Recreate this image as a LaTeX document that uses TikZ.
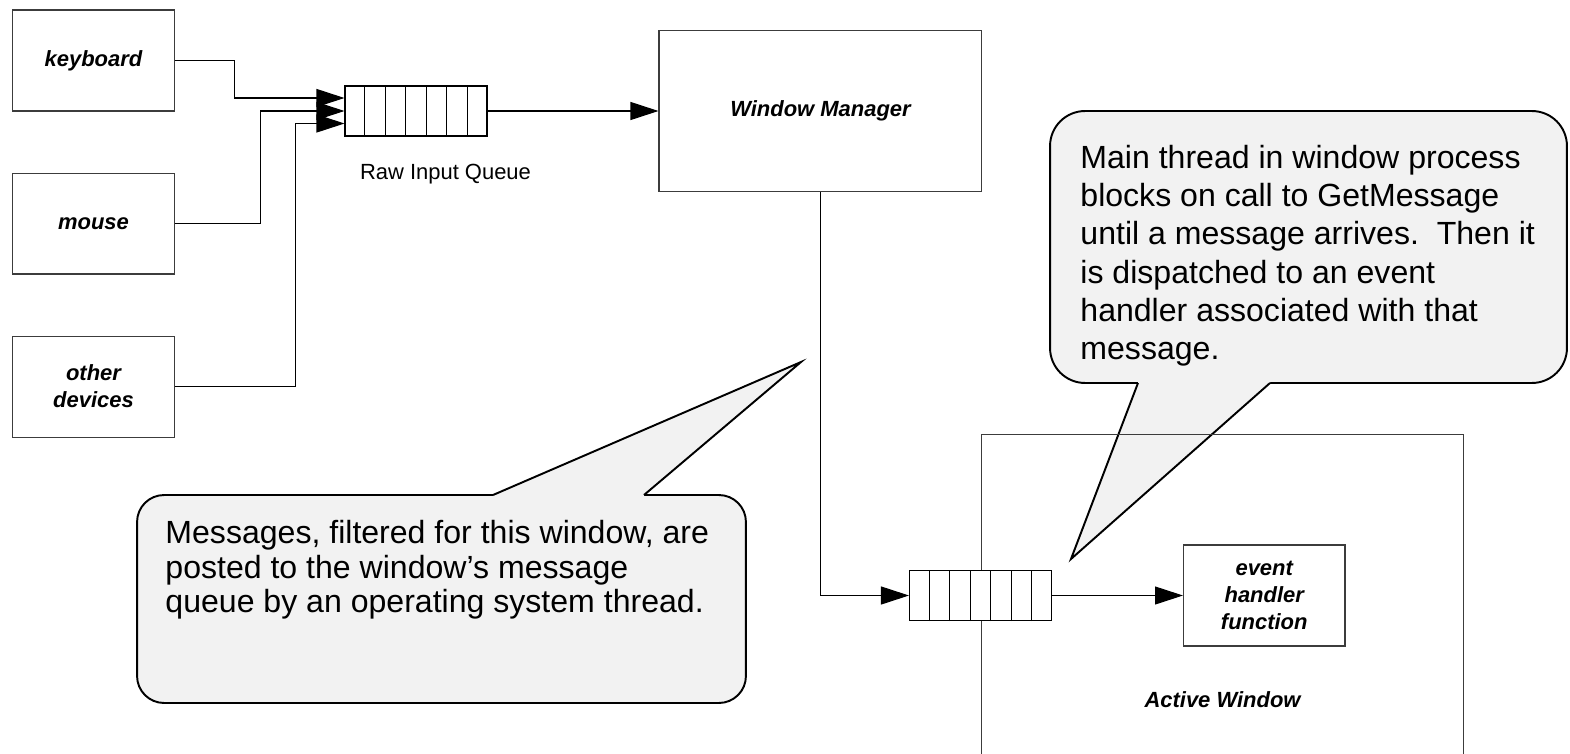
\documentclass[tikz,border=0pt]{standalone}
\usepackage{fontspec}
\setmainfont{Liberation Sans}
\usetikzlibrary{arrows.meta,positioning,calc}
\definecolor{ink}{RGB}{0,0,0}
\definecolor{frame}{RGB}{60,60,60}
\definecolor{bubble}{RGB}{242,242,242}
\tikzset{
  box/.style={draw=frame,line width=0.6pt,fill=white,inner sep=0pt,align=center,font=\fontsize{12.5}{15.4}\selectfont\bfseries\itshape},
  dev/.style={box,minimum width=32.3mm,minimum height=20.2mm},
  queue/.style={draw=ink,line width=0.6pt,fill=white,inner sep=0pt,minimum width=28.4mm,minimum height=10mm},
  cell/.style={ink,line width=0.6pt},
  flow/.style={-{Triangle[length=5.6mm,width=3.6mm]},ink,line width=0.6pt},
  note/.style={draw=ink,line width=1.1pt,fill=bubble,inner sep=0pt},
  noteline/.style={ink,line width=1.1pt},
  notetext/.style={inner sep=0pt,align=left,anchor=north west},
  lbl/.style={inner sep=0pt,font=\fontsize{12.5}{15.4}\selectfont\bfseries\itshape},
}
\begin{document}
\begin{tikzpicture}[x=0.02cm,y=-0.02cm]
\useasboundingbox (0,0) rectangle (1570,754);
% callouts first: the window frame runs over the right pointer
\node[note,rounded corners=7mm,minimum width=103.4mm,minimum height=54.4mm] (gmbody) at (1308.5,247) {};
\fill[bubble] (1138,380) -- (1138,383) -- (1071,559) -- (1270,383) -- (1270,380) -- cycle;
\draw[noteline] (1138,383) -- (1071,559) -- (1270,383);
\node[notetext,font=\fontsize{18.25}{21.7}\selectfont,below right=7mm and 6.2mm of gmbody.north west] (gmtext)
  {Main thread in window process\\ blocks on call to GetMessage\\ until a message arrives.\ \ Then it\\ is dispatched to an event\\ handler associated with that\\ message.};
\node[note,rounded corners=5.4mm,minimum width=121.8mm,minimum height=41.6mm] (postbody) at (441.5,599) {};
\fill[bubble] (493,498) -- (493,495) -- (801,362) -- (644,495) -- (644,498) -- cycle;
\draw[noteline] (493,495) -- (801,362) -- (644,495);
\node[notetext,font=\fontsize{18.25}{19.6}\selectfont,below right=5.2mm and 5.8mm of postbody.north west] (posttext)
  {Messages, filtered for this window, are\\ posted to the window's message\\ queue by an operating system thread.};
% input devices
\node[dev] (kbd) at (93.5,60.5) {keyboard};
\node[dev,below=12.2mm of kbd] (mouse) {mouse};
\node[dev,below=12.2mm of mouse] (other) {other\\ devices};
\node[queue] (rawq) at (416,111) {};
\node[inner sep=0pt,font=\fontsize{12.5}{15}\selectfont,below=5.4mm of rawq,xshift=5.9mm] (rawlbl) {Raw Input Queue};
\node[box,minimum width=64.6mm,minimum height=32.2mm,right=34.2mm of rawq] (wm) {Window Manager};
% active window
\node[box,fill=none,minimum width=96.6mm,minimum height=73.2mm] (actwin) at (1222.5,617) {};
\node[lbl] (actlbl) at (1222.5,700) {Active Window};
\node[queue] (msgq) at (980.5,595.5) {};
\node[dev,right=26.2mm of msgq] (handler) {event\\ handler\\ function};
\foreach \q in {rawq,msgq}
  \foreach \k in {1,...,6}
    \draw[cell] ($(\q.south west)!\k/7!(\q.south east)$) -- ($(\q.north west)!\k/7!(\q.north east)$);
\draw[flow] (kbd.east) -- ++(60,0) |- ($(rawq.west)+(0,-13)$);
\draw[flow] (mouse.east) -- ++(86,0) |- (rawq.west);
\draw[flow] (other.east) -- ++(121,0) |- ($(rawq.west)+(0,12.5)$);
\draw[flow] (rawq) -- (wm);
\draw[flow] (wm) |- (msgq);
\draw[flow] (msgq) -- (handler);
\end{tikzpicture}
\end{document}
